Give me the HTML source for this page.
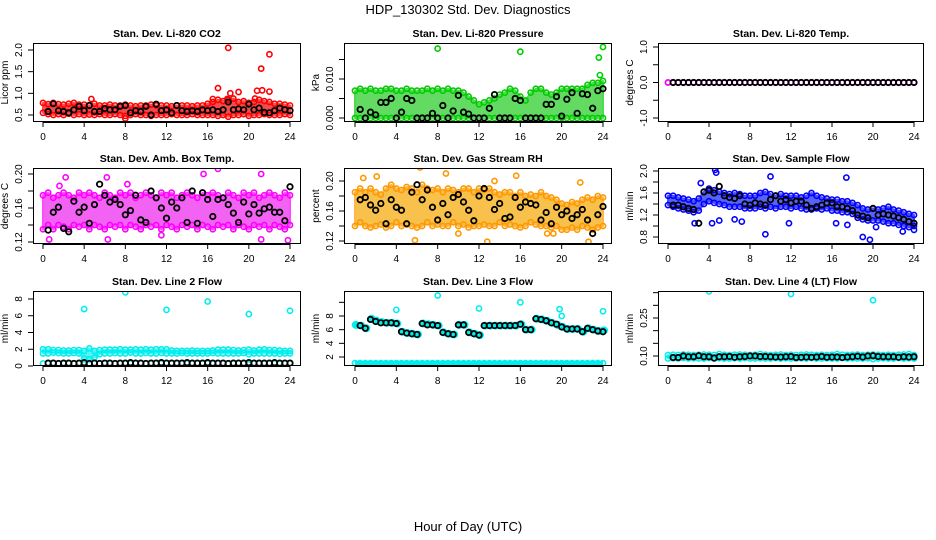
<!DOCTYPE html>
<html><head><meta charset="utf-8">
<style>
html,body{margin:0;padding:0;background:#fff;}
svg{display:block;font-family:"Liberation Sans",Arial,sans-serif;}
</style></head>
<body>
<svg id="chart" width="936" height="540" viewBox="0 0 936 540" xmlns="http://www.w3.org/2000/svg">
<text x="468" y="14" font-size="13" text-anchor="middle">HDP_130302  Std. Dev. Diagnostics</text>
<text x="468" y="531" font-size="13" text-anchor="middle">Hour of Day (UTC)</text>
</svg>
<script>
// ---- data ----
const gridHours = [0,0.5,1,1.5,2,2.5,3,3.5,4,4.5,5,5.5,6,6.5,7,7.5,8,8.5,9,9.5,10,10.5,11,11.5,12,12.5,13,13.5,14,14.5,15,15.5,16,16.5,17,17.5,18,18.5,19,19.5,20,20.5,21,21.5,22,22.5,23,23.5,24];

const co2Lo = [0.55,0.52,0.5,0.52,0.5,0.53,0.5,0.52,0.5,0.51,0.5,0.52,0.5,0.5,0.52,0.5,0.48,0.5,0.52,0.5,0.5,0.48,0.5,0.5,0.5,0.52,0.5,0.5,0.5,0.52,0.5,0.5,0.5,0.5,0.48,0.5,0.46,0.5,0.5,0.52,0.48,0.5,0.5,0.52,0.5,0.5,0.5,0.52,0.5];
const co2Hi = [0.78,0.75,0.78,0.75,0.74,0.76,0.78,0.74,0.74,0.72,0.76,0.72,0.72,0.74,0.72,0.72,0.74,0.72,0.7,0.72,0.72,0.74,0.72,0.72,0.72,0.7,0.72,0.72,0.72,0.7,0.72,0.72,0.76,0.8,0.85,0.82,0.85,0.88,0.8,0.82,0.78,0.8,0.85,0.82,0.8,0.76,0.76,0.74,0.72];
const co2Black = [0.62,0.58,0.76,0.6,0.58,0.55,0.62,0.7,0.6,0.72,0.58,0.58,0.65,0.62,0.62,0.7,0.72,0.55,0.6,0.58,0.7,0.5,0.75,0.6,0.62,0.55,0.72,0.6,0.58,0.6,0.58,0.62,0.6,0.62,0.58,0.62,0.8,0.62,0.64,0.62,0.75,0.62,0.66,0.56,0.55,0.6,0.66,0.62,0.6];
const co2OutX = [18,22,21.2,17,19,22,18.2,20.8,21.3,4.7,8,16.5,17.9,20.6];
const co2OutY = [2.05,1.9,1.57,1.12,1.03,1.04,1.0,1.06,1.07,0.87,0.42,0.87,0.87,0.88];

const presLo = [0,0,0,0,0,0,0,0,0,0,0,0,0,0,0,0,0,0,0,0,0,0,0,0,0,0,0,0,0,0,0,0,0,0,0,0,0,0,0,0,0,0,0,0,0,0,0,0,0];
const presHi = [0.007,0.0075,0.007,0.0075,0.007,0.007,0.0075,0.0075,0.007,0.007,0.0075,0.007,0.007,0.007,0.0075,0.007,0.0075,0.007,0.0075,0.007,0.007,0.0065,0.0055,0.0045,0.0035,0.004,0.0045,0.005,0.006,0.0065,0.0075,0.007,0.0055,0.0045,0.0065,0.0075,0.0075,0.0065,0.006,0.0065,0.0075,0.0075,0.0075,0.0075,0.0075,0.0085,0.009,0.009,0.0095];
const presBlack = [0.0015,0.0022,0,0.0015,0.0008,0.004,0.004,0.005,0,0.0015,0.005,0.0045,0,0,0,0.0012,0,0.0032,0,0.0018,0.0058,0.0015,0.001,0,0,0,0.0025,0.006,0,0,0,0.005,0.0045,0,0,0,0,0.0035,0.0035,0.0055,0.0005,0.0048,0.0065,0.0012,0.0062,0.006,0.0025,0.007,0.0075];
const presOutX = [8,16,23.6,24,23.7];
const presOutY = [0.0178,0.017,0.0155,0.0182,0.011];

const tempColor = [0,0,0,0,0,0,0,0,0,0,0,0,0,0,0,0,0,0,0,0,0,0,0,0,0,0,0,0,0,0,0,0,0,0,0,0,0,0,0,0,0,0,0,0,0,0,0,0,0];
const tempBlack = [0,0,0,0,0,0,0,0,0,0,0,0,0,0,0,0,0,0,0,0,0,0,0,0,0,0,0,0,0,0,0,0,0,0,0,0,0,0,0,0,0,0,0,0,0,0,0,0,0];

const ambLo = [0.135,0.14,0.135,0.14,0.138,0.135,0.14,0.138,0.14,0.135,0.14,0.138,0.135,0.14,0.138,0.14,0.135,0.14,0.138,0.135,0.14,0.138,0.14,0.135,0.14,0.138,0.135,0.14,0.138,0.14,0.135,0.14,0.138,0.135,0.14,0.138,0.14,0.135,0.14,0.138,0.135,0.14,0.138,0.14,0.135,0.14,0.138,0.135,0.14];
const ambHi = [0.175,0.178,0.172,0.175,0.178,0.175,0.172,0.178,0.175,0.178,0.175,0.172,0.178,0.175,0.172,0.178,0.175,0.178,0.172,0.175,0.178,0.175,0.172,0.178,0.175,0.178,0.172,0.175,0.178,0.175,0.172,0.178,0.175,0.178,0.175,0.172,0.178,0.175,0.172,0.178,0.175,0.178,0.172,0.175,0.178,0.175,0.172,0.178,0.175];
const ambBlack = [0.135,0.134,0.155,0.161,0.136,0.132,0.168,0.155,0.161,0.142,0.164,0.188,0.175,0.167,0.17,0.164,0.152,0.157,0.175,0.146,0.143,0.18,0.172,0.16,0.148,0.167,0.16,0.172,0.143,0.18,0.142,0.178,0.17,0.15,0.17,0.172,0.164,0.154,0.143,0.167,0.153,0.164,0.154,0.159,0.161,0.155,0.155,0.145,0.185];
const ambOutX = [2.2,6.2,17,21.2,15.6,0.6,6.3,21.2,23.8,1.6,8.2,11.5];
const ambOutY = [0.196,0.196,0.206,0.2,0.2,0.123,0.123,0.123,0.122,0.186,0.188,0.128];

const rhLo = [0.14,0.145,0.14,0.138,0.14,0.142,0.138,0.14,0.145,0.14,0.142,0.14,0.138,0.14,0.145,0.14,0.142,0.14,0.14,0.145,0.14,0.142,0.138,0.14,0.14,0.142,0.14,0.14,0.145,0.14,0.142,0.14,0.138,0.14,0.145,0.142,0.14,0.14,0.138,0.14,0.135,0.135,0.138,0.135,0.14,0.138,0.135,0.138,0.14];
const rhHi = [0.185,0.19,0.185,0.19,0.185,0.182,0.19,0.195,0.19,0.188,0.192,0.19,0.185,0.195,0.19,0.188,0.19,0.185,0.19,0.188,0.185,0.19,0.19,0.185,0.19,0.188,0.19,0.185,0.182,0.185,0.185,0.18,0.185,0.18,0.182,0.18,0.185,0.18,0.178,0.175,0.17,0.168,0.172,0.17,0.175,0.178,0.175,0.18,0.178];
const rhBlack = [0.158,0.175,0.178,0.168,0.161,0.17,0.143,0.175,0.165,0.161,0.143,0.185,0.195,0.175,0.188,0.165,0.148,0.17,0.155,0.178,0.182,0.172,0.161,0.147,0.18,0.19,0.178,0.162,0.17,0.15,0.152,0.178,0.165,0.172,0.17,0.168,0.148,0.158,0.143,0.165,0.155,0.16,0.15,0.155,0.162,0.148,0.13,0.155,0.166];
const rhOutX = [0.8,2.1,6.3,8.8,10,15.6,13.5,5.8,12.8,22.6,21.8,19.2,18.6];
const rhOutY = [0.204,0.206,0.218,0.21,0.13,0.207,0.2,0.121,0.119,0.119,0.198,0.13,0.13];

const sfLo = [1.38,1.35,1.32,1.3,1.28,1.25,1.28,1.4,1.45,1.42,1.4,1.38,1.35,1.35,1.35,1.32,1.32,1.32,1.35,1.32,1.35,1.32,1.35,1.35,1.32,1.35,1.32,1.3,1.3,1.32,1.3,1.32,1.28,1.28,1.25,1.25,1.22,1.15,1.12,1.1,1.1,1.1,1.08,1.05,1.05,1.02,1.0,0.98,1.0];
const sfHi = [1.55,1.55,1.52,1.5,1.48,1.45,1.5,1.62,1.68,1.65,1.62,1.6,1.58,1.6,1.58,1.55,1.55,1.55,1.6,1.62,1.58,1.55,1.58,1.55,1.55,1.55,1.52,1.55,1.6,1.55,1.52,1.5,1.48,1.48,1.45,1.45,1.42,1.38,1.32,1.3,1.32,1.3,1.32,1.35,1.3,1.28,1.25,1.22,1.2];
const sfBlack = [1.45,1.38,1.38,1.35,1.32,1.3,1.05,1.62,1.65,1.6,1.72,1.55,1.52,1.5,1.55,1.4,1.38,1.42,1.4,1.38,1.48,1.55,1.45,1.48,1.42,1.45,1.45,1.38,1.32,1.35,1.38,1.42,1.42,1.35,1.35,1.32,1.28,1.2,1.18,1.15,1.32,1.2,1.22,1.2,1.18,1.15,1.12,1.08,1.05];
const sfOutX = [4.6,4.7,10,17.4,9.5,19.7,19,24,22.9,4.3,5,6.5,7.2,3.2,2.6,11.8,16.4,17.5,20.3];
const sfOutY = [2.02,1.97,1.9,1.88,0.85,0.75,0.8,0.93,0.9,1.05,1.1,1.12,1.08,1.78,1.05,1.05,1.05,1.02,0.98];

const l2Lo = [1.5,1.5,1.6,1.55,1.5,1.5,1.55,1.5,0.9,0.8,1.0,1.4,1.5,1.5,1.55,1.5,1.5,1.6,1.5,1.5,1.55,1.5,1.5,1.55,1.5,1.5,1.5,1.55,1.5,1.5,1.5,1.5,1.5,1.55,1.5,1.5,1.5,1.5,1.5,1.55,1.4,1.5,1.5,1.5,1.5,1.5,1.45,1.5,1.5];
const l2Hi = [2.0,2.0,1.9,1.9,1.85,1.85,1.9,1.9,1.8,2.1,1.8,1.9,1.95,1.95,1.95,2.0,1.95,1.95,2.0,1.95,2.0,1.95,2.0,2.0,2.0,1.85,1.8,1.8,1.8,1.85,1.8,1.8,1.8,1.85,1.95,1.95,1.95,1.9,1.85,1.9,1.95,1.85,1.95,2.0,1.9,1.9,1.85,1.8,1.8];
const l2Low = [0.3,0.3,0.3,0.3,0.3,0.3,0.3,0.3,0.2,0.3,0.3,0.3,0.3,0.3,0.3,0.3,0.3,0.3,0.3,0.3,0.3,0.3,0.3,0.3,0.3,0.3,0.3,0.3,0.3,0.3,0.3,0.3,0.3,0.3,0.3,0.3,0.3,0.3,0.3,0.3,0.2,0.3,0.3,0.3,0.3,0.3,0.3,0.3,0.3];
const l2Black = [0.35,0.35,0.35,0.3,0.35,0.35,0.3,0.35,0.4,0.3,0.35,0.3,0.35,0.35,0.3,0.35,0.35,0.4,0.35,0.35,0.3,0.35,0.35,0.4,0.35,0.35,0.35,0.35,0.4,0.35,0.35,0.35,0.4,0.35,0.35,0.35,0.3,0.35,0.35,0.35,0.4,0.35,0.35,0.35,0.35,0.4,0.35,0.35,0.35];
const l2OutX = [4,8,12,16,20,24];
const l2OutY = [6.8,8.8,6.7,7.7,6.2,6.6];

const l3Base = [1.1,1.1,1.1,1.1,1.1,1.1,1.1,1.1,1.1,1.1,1.1,1.1,1.1,1.1,1.1,1.1,1.1,1.1,1.1,1.1,1.1,1.1,1.1,1.1,1.1,1.1,1.1,1.1,1.1,1.1,1.1,1.1,1.1,1.1,1.1,1.1,1.1,1.1,1.1,1.1,1.1,1.1,1.1,1.1,1.1,1.1,1.1,1.1,1.1];
const l3Cyan = [6.7,6.6,6.2,7.6,7.3,7.1,7.0,7.0,6.9,5.7,5.5,5.4,5.3,6.9,6.8,6.7,6.6,5.6,5.4,5.3,6.7,6.7,5.6,5.4,5.2,6.6,6.6,6.6,6.6,6.6,6.6,6.6,6.8,6.0,6.0,7.6,7.5,7.3,7.0,6.7,6.4,6.1,6.1,6.1,5.7,6.2,6.0,5.8,5.9];
const l3Black = [6.7,6.6,6.2,7.5,7.2,7.0,7.0,7.0,6.9,5.7,5.5,5.4,5.3,6.9,6.7,6.7,6.6,5.6,5.4,5.3,6.7,6.7,5.6,5.4,5.2,6.6,6.6,6.6,6.6,6.6,6.6,6.6,6.8,6.0,6.0,7.6,7.5,7.3,7.0,6.8,6.4,6.1,6.1,6.1,5.7,6.2,6.0,5.8,5.7];
const l3OutX = [4,8,12,16,20,24,19.8];
const l3OutY = [8.9,11,9.1,10,8,8.7,9.0];

const l4Lo = [0.09,0.091,0.09,0.092,0.09,0.091,0.09,0.09,0.092,0.09,0.091,0.09,0.09,0.091,0.09,0.092,0.09,0.09,0.091,0.09,0.09,0.092,0.09,0.091,0.09,0.09,0.091,0.09,0.092,0.09,0.09,0.091,0.09,0.09,0.092,0.09,0.091,0.09,0.09,0.091,0.088,0.09,0.091,0.09,0.09,0.092,0.09,0.091,0.09];
const l4Hi = [0.104,0.105,0.104,0.106,0.105,0.104,0.105,0.106,0.105,0.104,0.108,0.105,0.104,0.105,0.106,0.105,0.104,0.105,0.108,0.105,0.104,0.105,0.106,0.104,0.105,0.104,0.105,0.106,0.105,0.104,0.105,0.104,0.105,0.108,0.105,0.104,0.105,0.106,0.104,0.105,0.106,0.105,0.104,0.105,0.104,0.105,0.106,0.108,0.104];
const l4Black = [0.095,0.094,0.094,0.1,0.097,0.097,0.101,0.097,0.097,0.092,0.097,0.097,0.098,0.095,0.097,0.098,0.1,0.1,0.098,0.098,0.097,0.096,0.096,0.097,0.098,0.094,0.095,0.096,0.095,0.096,0.098,0.095,0.096,0.096,0.094,0.096,0.097,0.099,0.096,0.1,0.101,0.098,0.097,0.097,0.097,0.095,0.097,0.096,0.097];
const l4OutX = [4,12,20];
const l4OutY = [0.355,0.345,0.32];

const xTicks = [0,4,8,12,16,20,24];

// ---- rendering ----
const svg = document.getElementById('chart');
const NS = 'http://www.w3.org/2000/svg';
function mk(tag, attrs, parent) {
  const e = document.createElementNS(NS, tag);
  for (const k in attrs) e.setAttribute(k, attrs[k]);
  (parent || svg).appendChild(e);
  return e;
}
const cols = [{L:33,R:301,x0:43,x24:290},{L:344,R:612,x0:355,x24:603},{L:658,R:924,x0:668,x24:914}];
const rows = [{T:43,B:122},{T:168,B:244},{T:291,B:366}];

const panels = [
 {key:'co2',title:'Stan. Dev. Li-820 CO2',ylab:'Licor ppm',c:0,r:0,v0:0.5,p0:115,v1:2.0,p1:50,ticks:[0.5,1.0,1.5,2.0],labels:['0.5','1.0','1.5','2.0'],col:'#ff0000',band:'#ee0000',lo:co2Lo,hi:co2Hi,blk:co2Black,ox:co2OutX,oy:co2OutY},
 {key:'pressure',title:'Stan. Dev. Li-820 Pressure',ylab:'kPa',c:1,r:0,v0:0,p0:118,v1:0.01,p1:79,ticks:[0,0.005,0.01,0.015],labels:['0.000','','0.010',''],col:'#00cc00',band:'#22cc22',lo:presLo,hi:presHi,blk:presBlack,ox:presOutX,oy:presOutY},
 {key:'temp',title:'Stan. Dev. Li-820 Temp.',ylab:'degrees C',c:2,r:0,v0:-1,p0:118,v1:1,p1:47,ticks:[-1,-0.5,0,0.5,1],labels:['-1.0','','0.0','','1.0'],col:'#ff00ff',band:null,lo:tempColor,hi:tempColor,blk:tempBlack,ox:[],oy:[]},
 {key:'amb-temp',title:'Stan. Dev. Amb. Box Temp.',ylab:'degrees C',c:0,r:1,v0:0.12,p0:242,v1:0.2,p1:174,ticks:[0.12,0.14,0.16,0.18,0.2],labels:['0.12','','0.16','','0.20'],col:'#ff00ff',band:'#ee22ee',lo:ambLo,hi:ambHi,blk:ambBlack,ox:ambOutX,oy:ambOutY},
 {key:'rh',title:'Stan. Dev. Gas Stream RH',ylab:'percent',c:1,r:1,v0:0.12,p0:241,v1:0.2,p1:181,ticks:[0.12,0.14,0.16,0.18,0.2],labels:['0.12','','0.16','','0.20'],col:'#ff9900',band:'#f5a800',lo:rhLo,hi:rhHi,blk:rhBlack,ox:rhOutX,oy:rhOutY},
 {key:'sample-flow',title:'Stan. Dev. Sample Flow',ylab:'ml/min',c:2,r:1,v0:0.8,p0:237,v1:2.0,p1:171,ticks:[0.8,1.0,1.2,1.4,1.6,1.8,2.0],labels:['0.8','','1.2','','1.6','','2.0'],col:'#0000ff',band:'#1122ee',lo:sfLo,hi:sfHi,blk:sfBlack,ox:sfOutX,oy:sfOutY},
 {key:'line2-flow',title:'Stan. Dev. Line 2 Flow',ylab:'ml/min',c:0,r:2,v0:0,p0:366,v1:8,p1:299,ticks:[0,2,4,6,8],labels:['0','2','4','6','8'],col:'#00eeee',band:'#11eeee',lo:l2Lo,hi:l2Hi,blk:l2Black,ox:l2OutX,oy:l2OutY,extra:l2Low},
 {key:'line3-flow',title:'Stan. Dev. Line 3 Flow',ylab:'ml/min',c:1,r:2,v0:2,p0:357,v1:8,p1:316,ticks:[2,4,6,8,10],labels:['2','4','6','8',''],col:'#00eeee',band:null,lo:l3Base,hi:l3Cyan,blk:l3Black,ox:l3OutX,oy:l3OutY},
 {key:'line4-flow',title:'Stan. Dev. Line 4 (LT) Flow',ylab:'ml/min',c:2,r:2,v0:0.1,p0:356,v1:0.25,p1:318,ticks:[0.1,0.15,0.2,0.25,0.3,0.35],labels:['0.10','','','0.25','',''],col:'#00eeee',band:'#11eeee',lo:l4Lo,hi:l4Hi,blk:l4Black,ox:l4OutX,oy:l4OutY}
];

panels.forEach(p => {
  const C = cols[p.c], R = rows[p.r];
  const xs = h => C.x0 + (C.x24 - C.x0) * h / 24;
  const ys = v => p.p0 + (p.p1 - p.p0) * (v - p.v0) / (p.v1 - p.v0);
  const g = mk('g', {});
  
  
  const clipId = 'clip-' + p.key;
  const cp = mk('clipPath', {id: clipId}, g);
  mk('rect', {x: C.L, y: R.T, width: C.R - C.L, height: R.B - R.T}, cp);

  const t = mk('text', {x: (C.L + C.R) / 2, y: R.T - 6, 'font-size': 10.5, 'font-weight': 'bold', 'text-anchor': 'middle'}, g);
  t.textContent = p.title;
  
  

  const data = mk('g', {'clip-path': 'url(#' + clipId + ')'}, g);
  if (p.band) {
    let d = '';
    gridHours.forEach((h, i) => { d += (i ? 'L' : 'M') + xs(h).toFixed(1) + ',' + ys(p.hi[i]).toFixed(1); });
    for (let i = gridHours.length - 1; i >= 0; i--) d += 'L' + xs(gridHours[i]).toFixed(1) + ',' + ys(p.lo[i]).toFixed(1);
    const band = mk('path', {d: d + 'Z', fill: p.band, opacity: 0.7, stroke: p.col, 'stroke-width': 2, 'stroke-linejoin': 'round'}, data);
    
    
  }
  if (p.key === 'line3-flow') {
    let d = '';
    gridHours.forEach((h, i) => { d += (i ? 'L' : 'M') + xs(h).toFixed(1) + ',' + ys(p.lo[i]).toFixed(1); });
    const bl = mk('path', {d: d, fill: 'none', stroke: p.col, 'stroke-width': 5}, data);
    
    
  }
  const sets = p.extra ? [p.lo, p.hi, p.extra] : [p.lo, p.hi];
  sets.forEach((arr, k) => {
    gridHours.forEach((h, i) => {
      const c = mk('circle', {cx: xs(h), cy: ys(arr[i]), r: 2.6, fill: 'none', stroke: p.col, 'stroke-width': 1.6}, data);
      
      
    });
  });
  if (p.key === 'line3-flow') {
    gridHours.forEach((h, i) => {
      const c = mk('rect', {x: xs(h) - 3, y: ys(p.hi[i]) - 4, width: 8, height: 8, rx: 4, fill: p.col}, data);
      
      
    });
  }
  p.ox.forEach((x, i) => {
    const c = mk('circle', {cx: xs(x), cy: ys(p.oy[i]), r: 2.6, fill: 'none', stroke: p.col, 'stroke-width': 1.6}, data);
    
    
  });
  gridHours.forEach((h, i) => {
    if (h === 0) return;
    const c = mk('circle', {cx: xs(h), cy: ys(p.blk[i]), r: 2.7, fill: 'none', stroke: '#000', 'stroke-width': 1.8}, data);
    
    
  });

  const box = mk('rect', {x: C.L + 0.5, y: R.T + 0.5, width: C.R - C.L - 1, height: R.B - R.T - 1, fill: 'none', stroke: '#000', 'stroke-width': 1}, g);
  
  

  const xa = mk('g', {}, g);
  
  
  mk('line', {x1: xs(0), x2: xs(24), y1: R.B + 0.5, y2: R.B + 0.5, stroke: '#000'}, xa);
  xTicks.forEach(v => {
    mk('line', {x1: xs(v), x2: xs(v), y1: R.B, y2: R.B + 5, stroke: '#000'}, xa);
    const tl = mk('text', {x: xs(v), y: R.B + 18, 'font-size': 10, 'text-anchor': 'middle'}, xa);
    tl.textContent = v;
  });
  const ya = mk('g', {}, g);
  
  
  const tp = p.ticks.map(ys);
  mk('line', {x1: C.L + 0.5, x2: C.L + 0.5, y1: Math.min(...tp), y2: Math.max(...tp), stroke: '#000'}, ya);
  p.ticks.forEach((v, i) => {
    mk('line', {x1: C.L - 5, x2: C.L, y1: ys(v), y2: ys(v), stroke: '#000'}, ya);
    if (p.labels[i]) {
      const x = C.L - 11, y = ys(v);
      const tl = mk('text', {x: x, y: y, 'font-size': 10, 'text-anchor': 'middle', transform: 'rotate(-90 ' + x + ' ' + y + ')'}, ya);
      tl.textContent = p.labels[i];
    }
  });
  const yx = C.L - 25, yy = (R.T + R.B) / 2;
  const yt = mk('text', {x: yx, y: yy, 'font-size': 10, 'text-anchor': 'middle', transform: 'rotate(-90 ' + yx + ' ' + yy + ')'}, g);
  yt.textContent = p.ylab;
  
  
});
</script>
</body></html>
